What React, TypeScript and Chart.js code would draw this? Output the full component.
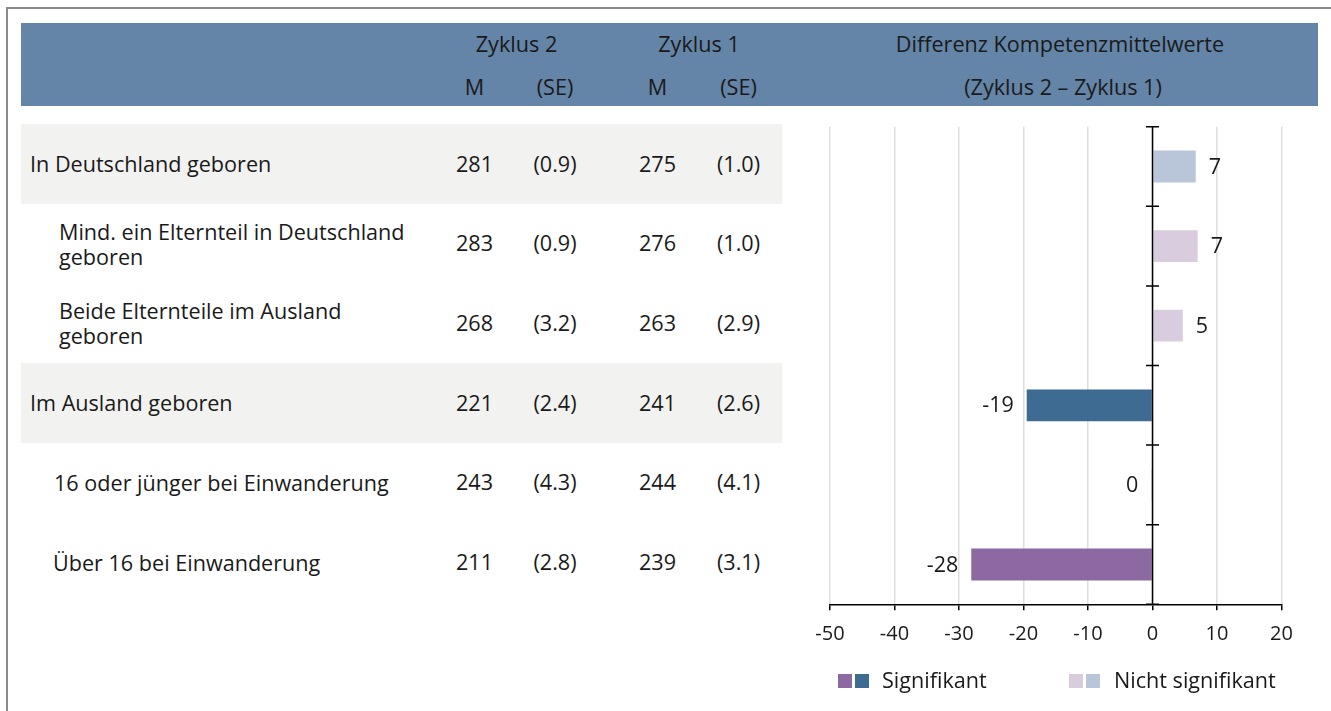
import React, { useEffect, useRef } from "react";
import { Chart, registerables } from "chart.js";

Chart.register(...registerables);

// ---------- data ----------
const rowLabels: string[][] = [
  ["In Deutschland geboren"],
  ["Mind. ein Elternteil in Deutschland", "geboren"],
  ["Beide Elternteile im Ausland", "geboren"],
  ["Im Ausland geboren"],
  ["16 oder jünger bei Einwanderung"],
  ["Über 16 bei Einwanderung"],
];
const rowLevel = [0, 1, 1, 0, 1, 1];
const m2 = ["281", "283", "268", "221", "243", "211"];
const se2 = ["(0.9)", "(0.9)", "(3.2)", "(2.4)", "(4.3)", "(2.8)"];
const m1 = ["275", "276", "263", "241", "244", "239"];
const se1 = ["(1.0)", "(1.0)", "(2.9)", "(2.6)", "(4.1)", "(3.1)"];
const diffValues = [6.7, 7.0, 4.7, -19.5, -0.2, -28.1];
const diffLabels = ["7", "7", "5", "-19", "0", "-28"];
const significant = [false, false, false, true, false, true];
const xMin = -50;
const xMax = 20;
const xStep = 10;
const legendLabels = ["Signifikant", "Nicht signifikant"];

// ---------- styles ----------
const FONT = "'Open Sans', sans-serif";
const TEXT = "#1a1a1a";
const COL_SIG_TOP = "#3d6b91";
const COL_SIG_SUB = "#8c6aa1";
const COL_NS_TOP = "#b9c6d9";
const COL_NS_SUB = "#d9ccdf";

function barColor(i: number) {
  if (significant[i]) return rowLevel[i] === 0 ? COL_SIG_TOP : COL_SIG_SUB;
  return rowLevel[i] === 0 ? COL_NS_TOP : COL_NS_SUB;
}

const axisAtZeroPlugin = {
  id: "axisAtZero",
  afterDatasetsDraw(chart: any) {
    const { ctx, chartArea, scales } = chart;
    const x0 = scales.x.getPixelForValue(0);
    const ys = scales.y;
    ctx.save();
    ctx.strokeStyle = "#000";
    ctx.lineWidth = 1.5;
    ctx.beginPath();
    ctx.moveTo(x0, chartArea.top);
    ctx.lineTo(x0, chartArea.bottom);
    for (let i = 0; i <= diffValues.length; i++) {
      const y = ys.getPixelForValue(i - 0.5);
      ctx.moveTo(x0 - 6.5, y);
      ctx.lineTo(x0 + 6.5, y);
    }
    ctx.stroke();
    ctx.restore();
  },
};

const valueLabelPlugin = {
  id: "valueLabels",
  afterDatasetsDraw(chart: any) {
    const { ctx } = chart;
    const meta = chart.getDatasetMeta(0);
    ctx.save();
    ctx.fillStyle = TEXT;
    ctx.font = `21.5px ${FONT}`;
    ctx.textBaseline = "middle";
    meta.data.forEach((el: any, i: number) => {
      const v = diffValues[i];
      if (v >= 0) {
        ctx.textAlign = "left";
        ctx.fillText(diffLabels[i], el.x + 13, el.y + 1);
      } else {
        ctx.textAlign = "right";
        ctx.fillText(diffLabels[i], el.x - 13, el.y + 1);
      }
    });
    ctx.restore();
  },
};

function Txt(props: { x: number; y: number; children: React.ReactNode; align?: "center" | "left" }) {
  const { x, y, children, align = "center" } = props;
  return (
    <div
      style={{
        position: "absolute",
        left: x,
        top: y - 12.8,
        lineHeight: "24px",
        whiteSpace: "nowrap",
        transform: align === "center" ? "translateX(-50%)" : undefined,
      }}
    >
      {children}
    </div>
  );
}

export default function App() {
  const canvasRef = useRef<HTMLCanvasElement>(null);

  useEffect(() => {
    const chart = new Chart(canvasRef.current as HTMLCanvasElement, {
      type: "bar",
      data: {
        labels: rowLabels.map((l) => l.join(" ")),
        datasets: [
          {
            data: diffValues,
            backgroundColor: diffValues.map((_, i) => barColor(i)),
            borderWidth: 0,
            barPercentage: 0.4,
            categoryPercentage: 1,
          },
        ],
      },
      options: {
        indexAxis: "y",
        responsive: false,
        animation: false,
        layout: { padding: { left: 30, right: 49.5, top: 16.7, bottom: 0 } },
        plugins: { legend: { display: false }, tooltip: { enabled: false } },
        scales: {
          x: {
            min: xMin,
            max: xMax,
            ticks: {
              stepSize: xStep,
              color: TEXT,
              font: { family: FONT, size: 20 },
              padding: 12,
            },
            grid: {
              color: "#dedede",
              lineWidth: 1.5,
              tickColor: "#000",
              tickLength: 6,
              tickWidth: 1.5,
            },
            border: { color: "#000", width: 1.5 },
            afterFit: (s: any) => {
              s.height = 65.7;
            },
          },
          y: { display: false },
        },
      },
      plugins: [axisAtZeroPlugin, valueLabelPlugin],
    } as any);
    return () => chart.destroy();
  }, []);

  const rowTop = 124;
  const rowH = 79.7;
  const indentPx = [30, 59, 59, 30, 54, 53];
  const colM2 = 474.5;
  const colSE2 = 555;
  const colM1 = 657.5;
  const colSE1 = 738.5;

  return (
    <div
      style={{
        position: "absolute",
        left: 0,
        top: 0,
        width: 1331,
        height: 711,
        overflow: "hidden",
        background: "#fff",
        fontFamily: FONT,
        fontSize: 21.6,
        color: TEXT,
      }}
    >
      {/* frame */}
      <div
        style={{
          position: "absolute",
          left: 6,
          top: 7,
          width: 1400,
          height: 800,
          borderLeft: "2px solid #8a8a8a",
          borderTop: "2px solid #8a8a8a",
        }}
      />
      {/* header band */}
      <div
        style={{
          position: "absolute",
          left: 21,
          top: 23,
          width: 1297,
          height: 83,
          background: "#6485a7",
        }}
      />
      <Txt x={516.5} y={44.7}>Zyklus 2</Txt>
      <Txt x={699} y={44.7}>Zyklus 1</Txt>
      <Txt x={colM2} y={87.5}>M</Txt>
      <Txt x={colSE2} y={87.5}>(SE)</Txt>
      <Txt x={colM1} y={87.5}>M</Txt>
      <Txt x={colSE1} y={87.5}>(SE)</Txt>
      <Txt x={1060} y={44.7}>Differenz Kompetenzmittelwerte</Txt>
      <Txt x={1063} y={87.5}>(Zyklus 2 – Zyklus 1)</Txt>

      {/* rows */}
      {rowLabels.map((lines, i) => {
        const top = rowTop + i * rowH;
        const cy = top + rowH / 2 + 0.6;
        return (
          <React.Fragment key={i}>
            {rowLevel[i] === 0 && (
              <div
                style={{
                  position: "absolute",
                  left: 21,
                  top: top,
                  width: 761,
                  height: rowH,
                  background: "#f2f2f1",
                }}
              />
            )}
            <div
              style={{
                position: "absolute",
                left: indentPx[i],
                top: top,
                height: rowH,
                display: "flex",
                flexDirection: "column",
                justifyContent: "center",
                lineHeight: "25px",
                whiteSpace: "nowrap",
              }}
            >
              {lines.map((l, j) => (
                <div key={j}>{l}</div>
              ))}
            </div>
            <Txt x={colM2} y={cy}>{m2[i]}</Txt>
            <Txt x={colSE2} y={cy}>{se2[i]}</Txt>
            <Txt x={colM1} y={cy}>{m1[i]}</Txt>
            <Txt x={colSE1} y={cy}>{se1[i]}</Txt>
          </React.Fragment>
        );
      })}

      {/* chart */}
      <div style={{ position: "absolute", left: 800, top: 110, width: 531, height: 560 }}>
        <canvas ref={canvasRef} width={531} height={560} style={{ display: "block" }} />
      </div>

      {/* legend */}
      <div style={{ position: "absolute", left: 838, top: 674, width: 13.5, height: 13.5, background: COL_SIG_SUB }} />
      <div style={{ position: "absolute", left: 855, top: 674, width: 13.5, height: 13.5, background: COL_SIG_TOP }} />
      <Txt x={882} y={681} align="left">{legendLabels[0]}</Txt>
      <div style={{ position: "absolute", left: 1069, top: 674, width: 13.5, height: 13.5, background: COL_NS_SUB }} />
      <div style={{ position: "absolute", left: 1086, top: 674, width: 13.5, height: 13.5, background: COL_NS_TOP }} />
      <Txt x={1114} y={681} align="left">{legendLabels[1]}</Txt>
    </div>
  );
}
